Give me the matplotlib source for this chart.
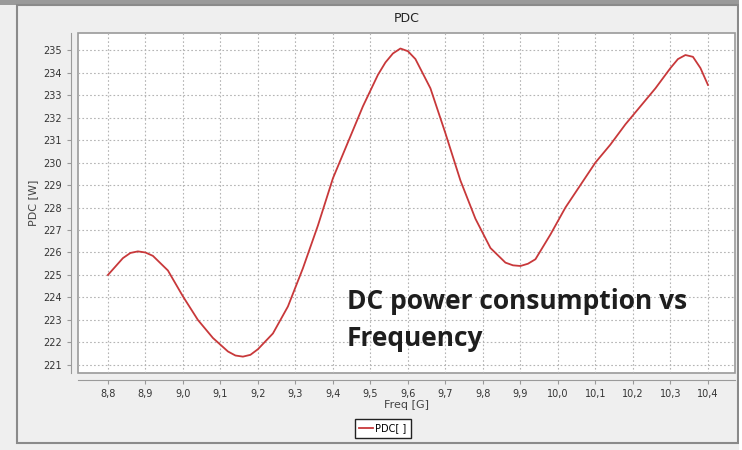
# PDC vs frequency, simulator-style window look
import matplotlib
matplotlib.use('Agg')
import matplotlib.pyplot as plt
from matplotlib.patches import Rectangle
from matplotlib.ticker import FuncFormatter

# values
freq = [8.80, 8.84, 8.86, 8.88, 8.90, 8.92, 8.96, 9.00, 9.04, 9.08, 9.12, 9.14,
        9.16, 9.18, 9.20, 9.24, 9.28, 9.32, 9.36, 9.40, 9.44, 9.48, 9.52,
        9.54, 9.56, 9.58, 9.60, 9.62, 9.66, 9.70, 9.74, 9.78, 9.82, 9.86,
        9.88, 9.90, 9.92, 9.94, 9.98, 10.02, 10.06, 10.10, 10.14, 10.18,
        10.22, 10.26, 10.30, 10.32, 10.34, 10.36, 10.38, 10.40]
pdc = [225.0, 225.75, 225.98, 226.05, 226.0, 225.85, 225.2, 224.05, 223.0, 222.2, 221.6, 221.42,
       221.37, 221.45, 221.7, 222.4, 223.6, 225.3, 227.2, 229.3, 230.9, 232.5, 233.9,
       234.45, 234.85, 235.07, 234.95, 234.6, 233.3, 231.3, 229.2, 227.5, 226.2, 225.55,
       225.43, 225.4, 225.5, 225.7, 226.8, 228.0, 229.0, 230.0, 230.8, 231.7,
       232.5, 233.3, 234.2, 234.6, 234.78, 234.7, 234.2, 233.45]

xticks = [8.8, 8.9, 9.0, 9.1, 9.2, 9.3, 9.4, 9.5, 9.6, 9.7, 9.8, 9.9,
          10.0, 10.1, 10.2, 10.3, 10.4]
yticks = list(range(221, 236))

fig = plt.figure(figsize=(7.42, 4.5), dpi=100, facecolor='#efefef')

# window frame bits
fig.patches.append(Rectangle((0, 0.988), 1, 0.012, transform=fig.transFigure,
                             facecolor='#9a9a9a', edgecolor='none'))
fig.patches.append(Rectangle((0.0229, 0.015), 0.972, 0.973, transform=fig.transFigure,
                             facecolor='none', edgecolor='#8a8a8a', lw=1.5))
fig.patches.append(Rectangle((0.996, 0), 0.004, 1, transform=fig.transFigure,
                             facecolor='white', edgecolor='none'))

ax = fig.add_axes([0.105, 0.171, 0.8855, 0.7557])
ax.plot(freq, pdc, color='#c8383a', lw=1.3, label='PDC[ ]')

ax.set_xlim(8.72, 10.472)
ax.set_ylim(220.64, 235.76)
ax.set_xticks(xticks)
ax.set_yticks(yticks)
ax.xaxis.set_major_formatter(FuncFormatter(lambda v, p: ('%.1f' % v).replace('.', ',')))
ax.tick_params(direction='out', length=3, width=0.8, colors='#999999',
               labelcolor='#333333', labelsize=7)
ax.grid(True, color='#b4b4b4', linestyle=(0, (1.5, 2)), lw=0.8)

for s in ['top', 'right']:
    ax.spines[s].set_visible(False)
for s in ['left', 'bottom']:
    ax.spines[s].set_position(('outward', 5))
    ax.spines[s].set_color('#9a9a9a')
ax.add_patch(Rectangle((0, 0), 1, 1, transform=ax.transAxes, fill=False,
                       edgecolor='#9a9a9a', lw=1.2, clip_on=False))

ax.set_title('PDC', fontsize=9, color='#222222', pad=8)
ax.set_xlabel('Freq [G]', fontsize=8, color='#444444', labelpad=1)
ax.set_ylabel('PDC [W]', fontsize=8, color='#444444', labelpad=4)

ax.text(9.437, 223.0, 'DC power consumption vs\nFrequency', fontsize=19,
        fontweight='bold', family='Open Sans', color='#1e1e1e',
        linespacing=1.5, va='center', ha='left')

leg = fig.legend(loc='center', bbox_to_anchor=(0.516, 0.048), fontsize=7,
                 handlelength=1.4, handletextpad=0.2, borderpad=0.45,
                 fancybox=False, framealpha=1, edgecolor='#222222')
leg.get_frame().set_linewidth(1.0)

fig.savefig('out.png', dpi=100, facecolor=fig.get_facecolor())
